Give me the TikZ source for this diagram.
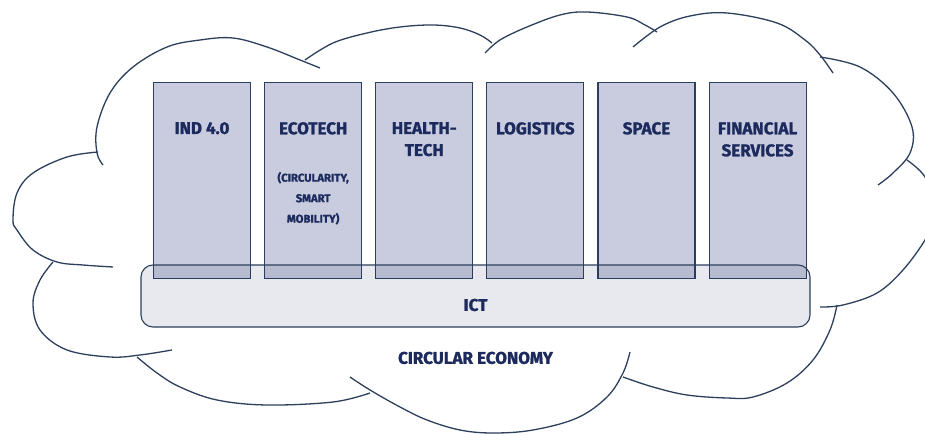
\documentclass[tikz,border=0pt]{standalone}
\usepackage{fontspec}
\setmainfont{Fira Sans}[BoldFeatures={FakeBold=1.2}]
\usepackage{xcolor}
\usetikzlibrary{positioning}
\definecolor{navy}{HTML}{1C2A5E}
\definecolor{edge}{HTML}{2C3F5C}
\definecolor{colfill}{HTML}{C8CCDE}

\begin{document}
\begin{tikzpicture}[x=1pt, y=-1pt, node distance=13pt,
    cloudline/.style={draw=edge, line width=1.3pt, smooth, tension=0.6},
    pillar/.style={draw=edge, line width=1.1pt, fill=colfill, minimum width=97pt, minimum height=196pt, inner sep=0pt},
    ictbar/.style={draw=edge, line width=1.1pt, fill=navy, fill opacity=0.1, rounded corners=12pt, minimum width=669pt, minimum height=62pt},
    head/.style={text=navy, font=\bfseries\fontsize{17}{22}\selectfont, align=center, inner sep=0pt},
    subhead/.style={text=navy, font=\bfseries\fontsize{11.3}{20.5}\selectfont, align=center, inner sep=0pt}]
    \useasboundingbox[fill=white] (0,0) rectangle (925,435);
    % Wolke
    \draw[cloudline] plot coordinates {(103,165) (97,153) (97,127) (110,93) (133,67) (167,47) (200,40) (233,38) (267,47) (300,60) (320,68)};
    \draw[cloudline] plot coordinates {(305,60) (333,43) (367,33) (400,27) (433,25) (460,28) (480,35) (492,43)};
    \draw[cloudline] plot coordinates {(485,53) (500,40) (527,27) (560,15) (587,12) (627,17) (645,25) (657,32)};
    \draw[cloudline] plot coordinates {(633,47) (660,27) (690,16) (727,13) (777,23) (805,40) (820,55) (833,73)};
    \draw[cloudline] plot coordinates {(820,57) (860,67) (893,93) (912,127) (910,153) (893,173) (878,185)};
    \draw[cloudline] plot coordinates {(907,160) (925,177) (933,205) (930,225) (925,240) (903,270) (877,293) (843,305) (820,307)};
    \draw[cloudline] plot coordinates {(837,305) (830,330) (813,360) (787,383) (753,397) (727,398) (687,395) (653,387) (623,377)};
    \draw[cloudline] plot coordinates {(630,352) (623,373) (607,397) (577,418) (533,430) (493,433) (460,430) (427,420) (400,407) (370,390) (350,377)};
    \draw[cloudline] plot coordinates {(370,393) (333,402) (267,405) (217,400) (180,387) (157,373) (137,357)};
    \draw[cloudline] plot coordinates {(172,350) (140,355) (110,357) (67,350) (40,330) (33,303) (40,280) (53,262)};
    \draw[cloudline] plot coordinates {(113,267) (83,265) (57,262) (33,250) (17,230) (13,220) (17,193) (33,173) (67,157) (98,152)};
    % Saeulen
    \node[pillar, anchor=north west] (ind) at (153,82) {};
    \node[pillar, right=of ind] (eco) {};
    \node[pillar, right=of eco] (health) {};
    \node[pillar, right=of health] (logi) {};
    \node[pillar, right=of logi] (space) {};
    \node[pillar, right=of space] (fin) {};
    % ICT-Basis
    \node[ictbar] (ict) at (475.5,296) {};
    % Beschriftungen
    \node[head, below=40pt of ind.north] (indtxt) {IND 4.0};
    \node[head, below=40pt of eco.north] (ecotxt) {ECOTECH};
    \node[subhead, below=37pt of ecotxt] (ecosub) {(CIRCULARITY,\\SMART\\MOBILITY)};
    \node[head, below=40pt of health.north] (healthtxt) {HEALTH-\\TECH};
    \node[head, below=40pt of logi.north] (logitxt) {LOGISTICS};
    \node[head, below=40pt of space.north] (spacetxt) {SPACE};
    \node[head, below=40pt of fin.north] (fintxt) {FINANCIAL\\SERVICES};
    \node[head] (icttxt) at ([yshift=-9pt]ict.center) {ICT};
    \node[head, below=24pt of ict] (ecotxt2) {CIRCULAR ECONOMY};
\end{tikzpicture}
\end{document}
